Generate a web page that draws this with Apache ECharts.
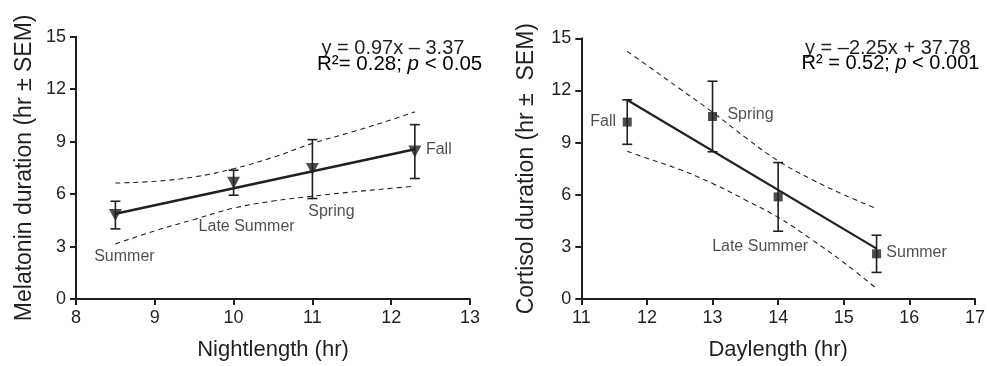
<!DOCTYPE html>
<html><head><meta charset="utf-8">
<script src="https://cdn.jsdelivr.net/npm/echarts@6/dist/echarts.min.js"></script>
<style>html,body{margin:0;padding:0;background:#fff}#c{width:988px;height:366px}</style>
</head><body><div id="c"></div>
<script>
// ---- Left panel: melatonin vs nightlength ----
const melX = [8.5, 10, 11, 12.3];
const melMean = [4.8, 6.65, 7.43, 8.43];
const melSem = [0.79, 0.715, 1.685, 1.54];
const melSeason = ['Summer', 'Late Summer', 'Spring', 'Fall'];
const melFitX = [8.5, 12.3];
const melFitY = [4.88, 8.56];
const melBandX = [8.5, 9, 9.5, 10, 10.5, 11, 11.5, 12, 12.3];
const melUpper = [6.63, 6.73, 6.98, 7.45, 8.1, 8.9, 9.55, 10.25, 10.7];
const melLower = [3.15, 3.9, 4.55, 5.2, 5.6, 5.88, 6.12, 6.33, 6.45];
const melXTicks = [8, 9, 10, 11, 12, 13];

// ---- Right panel: cortisol vs daylength ----
const corX = [11.7, 13, 14, 15.5];
const corMean = [10.18, 10.5, 5.875, 2.6];
const corSem = [1.28, 2.03, 1.975, 1.07];
const corSeason = ['Fall', 'Spring', 'Late Summer', 'Summer'];
const corFitX = [11.7, 15.5];
const corFitY = [11.45, 2.9];
const corBandX = [11.7, 12, 12.5, 13, 13.5, 14, 14.5, 15, 15.5];
const corUpper = [14.25, 13.45, 12.1, 10.75, 9.3, 7.95, 6.9, 6.0, 5.2];
const corLower = [8.5, 8.1, 7.45, 6.65, 5.7, 4.7, 3.45, 2.1, 0.6];
const corXTicks = [11, 12, 13, 14, 15, 16, 17];

const yTicks = [0, 3, 6, 9, 12, 15];

const FONT = 'Liberation Sans, Arial, Helvetica, sans-serif';
const INK = '#231f20';

// label offsets (style, not data)
const melLabelOffsets = [[9, 42], [13, 44], [19, 43], [24, -2]];
const corLabelOffsets = [[-24, -0.5], [38, -1.5], [-18, 50], [40, -1]];

const zip = (a, b) => a.map((v, i) => [v, b[i]]);

function axisX(gi, ticks, name, gap) {
  return {
    type: 'value', gridIndex: gi, min: ticks[0], max: ticks[ticks.length - 1], interval: 1,
    name: name, nameLocation: 'middle', nameGap: gap,
    nameTextStyle: { fontFamily: FONT, fontSize: 22, color: INK },
    axisLine: { show: true, onZero: false, lineStyle: { color: INK, width: 2 } },
    axisTick: { show: true, inside: false, length: 6, lineStyle: { color: INK, width: 2 } },
    axisLabel: { fontFamily: FONT, fontSize: 18, color: INK, margin: 10 },
    splitLine: { show: false }
  };
}
function axisY(gi, name, gap) {
  return {
    type: 'value', gridIndex: gi, min: yTicks[0], max: yTicks[yTicks.length - 1], interval: 3,
    name: name, nameLocation: 'middle', nameGap: gap,
    nameTextStyle: { fontFamily: FONT, fontSize: 23, color: INK },
    axisLine: { show: true, onZero: false, lineStyle: { color: INK, width: 2 } },
    axisTick: { show: true, inside: false, length: 6, lineStyle: { color: INK, width: 2 } },
    axisLabel: { fontFamily: FONT, fontSize: 18, color: INK, margin: 10 },
    splitLine: { show: false }
  };
}

function errSeries(gi, xs, means, sems) {
  return {
    type: 'custom', xAxisIndex: gi, yAxisIndex: gi, silent: true, z: 3,
    data: xs.map((x, i) => [x, means[i] - sems[i], means[i] + sems[i]]),
    renderItem: function (params, api) {
      const x = api.value(0);
      const lo = api.coord([x, api.value(1)]);
      const hi = api.coord([x, api.value(2)]);
      const hw = 5;
      const st = { stroke: INK, lineWidth: 1.6 };
      return {
        type: 'group', children: [
          { type: 'line', shape: { x1: lo[0], y1: lo[1], x2: hi[0], y2: hi[1] }, style: st },
          { type: 'line', shape: { x1: hi[0] - hw, y1: hi[1], x2: hi[0] + hw, y2: hi[1] }, style: st },
          { type: 'line', shape: { x1: lo[0] - hw, y1: lo[1], x2: lo[0] + hw, y2: lo[1] }, style: st }
        ]
      };
    }
  };
}
function lineSeries(gi, data, opts) {
  return Object.assign({
    type: 'line', xAxisIndex: gi, yAxisIndex: gi, data: data, symbol: 'none', silent: true,
    animation: false
  }, opts);
}
function pointSeries(gi, xs, means, names, offsets, symbol, size, rotate) {
  return {
    type: 'scatter', xAxisIndex: gi, yAxisIndex: gi, z: 5, silent: true,
    symbol: symbol, symbolSize: size, symbolRotate: rotate,
    itemStyle: { color: INK },
    data: xs.map((x, i) => ({
      value: [x, means[i]],
      label: {
        show: true, position: 'inside', formatter: names[i], offset: offsets[i],
        fontFamily: FONT, fontSize: 16, color: INK
      }
    }))
  };
}

const chart = echarts.init(document.getElementById('c'), null, { renderer: 'canvas' });
chart.setOption({
  animation: false,
  backgroundColor: '#fff',
  grid: [
    { left: 76, top: 36.7, width: 394, height: 262.8 },
    { left: 581.3, top: 38.3, width: 394.4, height: 264.4 }
  ],
  xAxis: [axisX(0, melXTicks, 'Nightlength (hr)', 40), axisX(1, corXTicks, 'Daylength (hr)', 40)],
  yAxis: [axisY(0, 'Melatonin duration (hr ± SEM)', 40), axisY(1, 'Cortisol duration (hr ±  SEM)', 43)],
  series: [
    lineSeries(0, zip(melBandX, melUpper), { smooth: 0.4, lineStyle: { color: INK, width: 1.1, type: [5, 4] } }),
    lineSeries(0, zip(melBandX, melLower), { smooth: 0.4, lineStyle: { color: INK, width: 1.1, type: [5, 4] } }),
    lineSeries(0, zip(melFitX, melFitY), { lineStyle: { color: INK, width: 2.6 }, z: 4 }),
    errSeries(0, melX, melMean, melSem),
    pointSeries(0, melX, melMean, melSeason, melLabelOffsets, 'triangle', [13, 12], 180),

    lineSeries(1, zip(corBandX, corUpper), { smooth: 0.4, lineStyle: { color: INK, width: 1.1, type: [5, 4] } }),
    lineSeries(1, zip(corBandX, corLower), { smooth: 0.4, lineStyle: { color: INK, width: 1.1, type: [5, 4] } }),
    lineSeries(1, zip(corFitX, corFitY), { lineStyle: { color: INK, width: 2.2 }, z: 4 }),
    errSeries(1, corX, corMean, corSem),
    pointSeries(1, corX, corMean, corSeason, corLabelOffsets, 'rect', [9, 9], 0)
  ],
  graphic: [
    { type: 'text', left: 321.5, top: 38, style: { text: 'y = 0.97x – 3.37', fontFamily: FONT, fontSize: 20, fill: INK } },
    { type: 'text', left: 317, top: 54, style: {
      text: '{n|R²= 0.28; }{i|p}{n| < 0.05}',
      rich: { n: { fontFamily: FONT, fontSize: 20.5, color: INK }, i: { fontFamily: FONT, fontSize: 20.5, fontStyle: 'italic', color: INK } }
    } },
    { type: 'text', left: 805, top: 38, style: { text: 'y = –2.25x + 37.78', fontFamily: FONT, fontSize: 20, fill: INK } },
    { type: 'text', left: 801.5, top: 53, style: {
      text: '{n|R² = 0.52; }{i|p}{n| < 0.001}',
      rich: { n: { fontFamily: FONT, fontSize: 20, color: INK }, i: { fontFamily: FONT, fontSize: 20, fontStyle: 'italic', color: INK } }
    } }
  ]
});
</script>
</body></html>
